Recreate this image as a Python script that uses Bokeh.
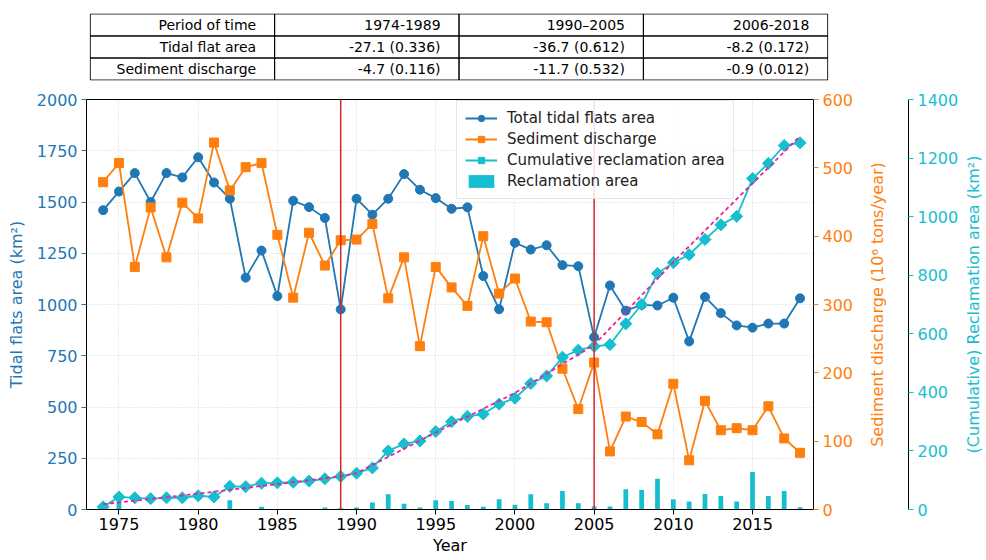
import math
from bokeh.plotting import figure
from bokeh.models import (Range1d, LinearAxis, FixedTicker, Span, Legend,
                          LegendItem, ColumnDataSource)
from bokeh.layouts import column, row
from bokeh.core.properties import value
from bokeh.embed import file_html
from bokeh.resources import INLINE

FONT = "DejaVu Sans"
BLUE = "#1f77b4"
ORANGE = "#ff7f0e"
CYAN = "#17becf"
PINK = "#f0209a"
RED = "#d62728"

# ---------------- data ----------------
table_header = ["Period of time", "1974-1989", "1990–2005", "2006-2018"]
table_row_tidal = ["Tidal flat area", "-27.1 (0.336)", "-36.7 (0.612)", "-8.2 (0.172)"]
table_row_sed = ["Sediment discharge", "-4.7 (0.116)", "-11.7 (0.532)", "-0.9 (0.012)"]

years = list(range(1974, 2019))
tidal_area = [1460, 1551, 1641, 1500, 1641, 1620, 1718, 1595, 1516, 1131,
              1263, 1041, 1506, 1475, 1422, 976, 1516, 1438, 1516, 1636,
              1560, 1519, 1467, 1474, 1139, 977, 1301, 1268, 1289, 1192,
              1187, 840, 1093, 970, 998, 995, 1033, 820, 1037, 958,
              898, 887, 907, 907, 1030]
sediment = [479, 507, 355, 442, 369, 449, 426, 537, 467, 501,
            507, 402, 310, 405, 357, 394, 395, 418, 309, 369,
            239, 355, 325, 298, 400, 316, 338, 275, 274, 206,
            147, 215, 85, 136, 128, 110, 184, 72, 159, 116,
            119, 116, 151, 104, 83]
cumulative = [9, 43, 40, 37, 40, 40, 47, 43, 79, 78,
              90, 91, 93, 97, 105, 113, 124, 142, 200, 224,
              234, 266, 300, 318, 326, 360, 380, 430, 456, 520,
              544, 557, 563, 634, 700, 806, 843, 870, 922, 972,
              1001, 1130, 1182, 1243, 1252]
annual_reclamation = [5, 32, 0, 0, 0, 0, 1, 0, 32, 0,
                      9, 2, 1, 2, 7, 4, 7, 24, 52, 20,
                      7, 32, 29, 15, 9, 35, 16, 52, 21, 63,
                      21, 10, 10, 69, 67, 105, 35, 27, 53, 46,
                      27, 128, 46, 63, 8]
trend_years = [1974, 1980, 1989, 1990, 1995, 2000, 2005, 2010, 2018]
trend_values = [18, 54, 113, 124, 263, 398, 562, 845, 1275]
period_breaks = [1989, 2005]

x_ticks = [1975, 1980, 1985, 1990, 1995, 2000, 2005, 2010, 2015]
tidal_ticks = [0, 250, 500, 750, 1000, 1250, 1500, 1750, 2000]
sed_ticks = [0, 100, 200, 300, 400, 500, 600]
cum_ticks = [0, 200, 400, 600, 800, 1000, 1200, 1400]

sed_title = "Sediment discharge (10⁶ tons/year)"
cum_title = "(Cumulative) Reclamation area (km²)"

TOTAL_W = 984

# ---------------- table ----------------
TBL_L, TBL_W = 89, 739
tbl = figure(width=TOTAL_W, height=86, min_border_left=TBL_L,
             min_border_right=TOTAL_W - TBL_L - TBL_W, min_border_top=13,
             min_border_bottom=6,
             x_range=Range1d(-0.004, 4.004), y_range=Range1d(3.02, -0.02),
             x_axis_location=None, y_axis_location=None,
             toolbar_location=None, output_backend="svg")
tbl.grid.visible = False
tbl.outline_line_color = None
rows = [table_header, table_row_tidal, table_row_sed]
cx, cy, tx, txt = [], [], [], []
for r, rw in enumerate(rows):
    for c, t in enumerate(rw):
        cx.append(c + 0.5)
        cy.append(r + 0.5)
        tx.append(c + 0.9)
        txt.append(t)
tsrc = ColumnDataSource(dict(cx=cx, cy=cy, tx=tx, text=txt))
tbl.rect(x="cx", y="cy", width=1, height=1, fill_color=None,
         line_color="black", line_width=1, source=tsrc)
tbl.text(x="tx", y="cy", text="text", text_align="right",
         text_baseline="middle", text_font=value(FONT),
         text_font_size="14px", text_color="black", source=tsrc)

# ---------------- main chart ----------------
FL, FW, FT, FH, FB = 86, 728, 13, 410, 49
MAIN_R = 42
H = FT + FH + FB
p = figure(width=FL + FW + MAIN_R, height=H, min_border_left=FL,
           min_border_right=MAIN_R, min_border_top=FT, min_border_bottom=FB,
           x_range=Range1d(1972.95, 2018.85), y_range=Range1d(0, 2000),
           toolbar_location=None, output_backend="svg")
p.extra_y_ranges = {"sed": Range1d(0, 600), "cum": Range1d(0, 1400)}
p.outline_line_color = "black"
p.outline_line_width = 1


def style_axis(ax, color, label):
    ax.axis_label = label
    ax.axis_label_text_color = color
    ax.axis_label_text_font = FONT
    ax.axis_label_text_font_size = "16px"
    ax.axis_label_text_font_style = "normal"
    ax.major_label_text_color = color
    ax.major_label_text_font = FONT
    ax.major_label_text_font_size = "16px"
    ax.major_tick_line_color = color
    ax.major_tick_out = 5
    ax.major_tick_in = 0
    ax.minor_tick_line_color = None
    ax.minor_tick_out = 0
    ax.axis_line_color = "black"
    ax.major_label_standoff = 4
    ax.axis_label_standoff = 8


xax = p.xaxis[0]
xax.ticker = FixedTicker(ticks=x_ticks)
style_axis(xax, "black", "Year")
xax.axis_label_standoff = 3
xax.major_label_standoff = 3

yax = p.yaxis[0]
yax.ticker = FixedTicker(ticks=tidal_ticks)
style_axis(yax, BLUE, "Tidal flats area (km²)")

ax_sed = LinearAxis(y_range_name="sed", ticker=FixedTicker(ticks=sed_ticks))
style_axis(ax_sed, ORANGE, None)
p.add_layout(ax_sed, "right")

p.xgrid.ticker = FixedTicker(ticks=x_ticks)
p.ygrid.ticker = FixedTicker(ticks=tidal_ticks)
p.grid.grid_line_color = "#d4d4d4"
p.grid.grid_line_dash = "1 2"
p.grid.grid_line_width = 1

r_bar = p.vbar(x=years, top=annual_reclamation, width=0.3, y_range_name="cum",
               fill_color=CYAN, line_color=None)
r_tl = p.line(years, tidal_area, color=BLUE, line_width=1.8)
r_ts = p.scatter(years, tidal_area, marker="circle", size=9, color=BLUE)
r_sl = p.line(years, sediment, color=ORANGE, line_width=1.8, y_range_name="sed")
r_ss = p.scatter(years, sediment, marker="square", size=9, color=ORANGE,
                 y_range_name="sed")
r_cl = p.line(years, cumulative, color=CYAN, line_width=1.8, y_range_name="cum")
r_cs = p.scatter(years, cumulative, marker="square", angle=math.pi / 4, size=8.5,
                 color=CYAN, y_range_name="cum")
p.line(trend_years, trend_values, color=PINK, line_width=1.8, line_dash="4 3",
       y_range_name="cum")

for yr in period_breaks:
    p.add_layout(Span(location=yr, dimension="height", line_color=RED,
                      line_width=1.5))

legend = Legend(items=[
    LegendItem(label="Total tidal flats area", renderers=[r_tl, r_ts]),
    LegendItem(label="Sediment discharge", renderers=[r_sl, r_ss]),
    LegendItem(label="Cumulative reclamation area", renderers=[r_cl, r_cs]),
    LegendItem(label="Reclamation area", renderers=[r_bar]),
], location=(370, 310))
legend.label_text_font = FONT
legend.label_text_font_size = "15px"
legend.label_text_color = "#222222"
legend.glyph_width = 32
legend.glyph_height = 16
legend.label_standoff = 10
legend.padding = 8
legend.spacing = 3
legend.margin = 0
legend.border_line_color = "#cccccc"
legend.background_fill_alpha = 0.85
p.add_layout(legend)

# ------------- strip with the orange title and the cyan axis -------------
S_FW, S_R = 53, 52
side = figure(width=S_FW + S_R, height=H, min_border_left=0,
              min_border_right=S_R, min_border_top=FT, min_border_bottom=FB,
              x_range=Range1d(0, 1), y_range=Range1d(0, 1400),
              x_axis_location=None, y_axis_location="right",
              toolbar_location=None, output_backend="svg")
side.outline_line_color = None
side.grid.visible = False
cax = side.yaxis[0]
cax.ticker = FixedTicker(ticks=cum_ticks)
style_axis(cax, CYAN, None)
side.text(x=[0.4], y=[700], text=[sed_title], angle=math.pi / 2,
          text_align="center", text_baseline="middle", text_color=ORANGE,
          text_font=value(FONT), text_font_size="16px")

# ------------- strip with the cyan title -------------
T_W = TOTAL_W - (FL + FW + MAIN_R) - (S_FW + S_R)
side2 = figure(width=T_W, height=H, min_border_left=0, min_border_right=0,
               min_border_top=FT, min_border_bottom=FB,
               x_range=Range1d(0, 1), y_range=Range1d(0, 1400),
               x_axis_location=None, y_axis_location=None,
               toolbar_location=None, output_backend="svg")
side2.outline_line_color = None
side2.grid.visible = False
side2.text(x=[0.5], y=[700], text=[cum_title], angle=math.pi / 2,
           text_align="center", text_baseline="middle", text_color=CYAN,
           text_font=value(FONT), text_font_size="16px")

layout = column(tbl, row(p, side, side2))
open("out.html", "w").write(file_html(layout, INLINE))
